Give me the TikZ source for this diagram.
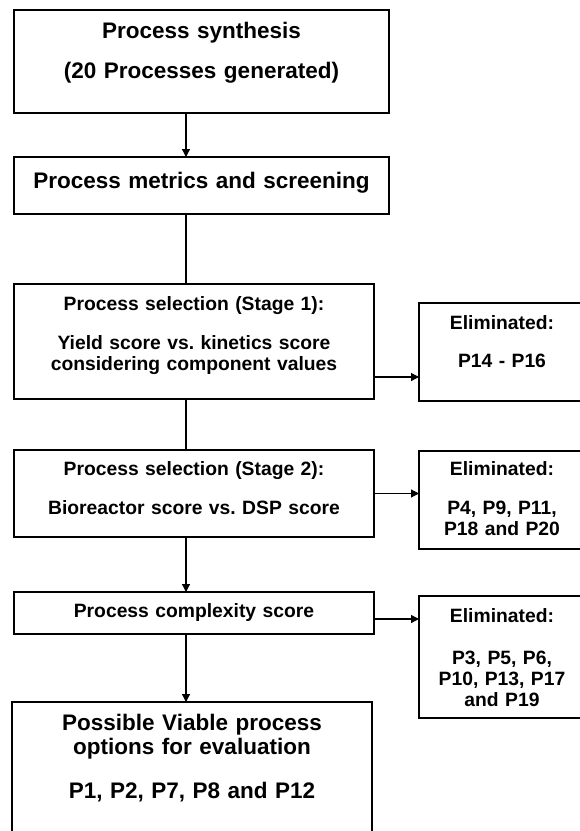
\documentclass[tikz,border=0pt]{standalone}
\usepackage{fontspec}
\setmainfont{Liberation Sans}
\usetikzlibrary{arrows.meta,positioning}
\frenchspacing

\begin{document}
\begin{tikzpicture}[
  x=1pt, y=1pt,
  box/.style={draw, line width=1.6pt, inner sep=0pt, outer sep=0pt, align=center, anchor=north west},
  big/.style={box, font=\fontsize{22.5}{27}\selectfont\bfseries},
  sml/.style={box, font=\fontsize{19.3}{21}\selectfont\bfseries},
  elim/.style={sml, text width=166pt},
  ar/.style={-{Triangle[length=8pt, width=8pt]}, line width=1.2pt},
  ln/.style={line width=1.2pt},
]
\clip (0,0) rectangle (580,-831);
% --- main column ---
\node[big, text width=375pt, text height=28pt, text depth=75pt] (synth) at (14,-10)
  {Process synthesis\\[13pt](20 Processes generated)};
\node[big, text width=375pt, text height=31pt, text depth=26pt,
      below=44pt of synth.south west, anchor=north west] (metrics)
  {Process metrics and screening};
\node[sml, text width=360pt, text height=26pt, text depth=89pt,
      below=70pt of metrics.south west, anchor=north west] (sel1)
  {Process selection (Stage 1):\\[18pt]Yield score vs. kinetics score\\considering component values};
\node[sml, text width=360pt, text height=25pt, text depth=62pt,
      below=51pt of sel1.south west, anchor=north west] (sel2)
  {Process selection (Stage 2):\\[18pt]Bioreactor score vs. DSP score};
\node[sml, text width=360pt, text height=25pt, text depth=17pt,
      below=55pt of sel2.south west, anchor=north west] (cplx)
  {Process complexity score};
\node[big, text width=360pt, text height=28pt, text depth=150pt,
      below=68pt of cplx.south west, anchor=north west, xshift=-2pt] (viable)
  {Possible Viable process\\[-3pt]options for evaluation\\[17pt]P1, P2, P7, P8 and P12};

% --- eliminated ---
\node[elim, text height=26pt, text depth=72pt,
      right=45pt of sel1.north east, anchor=north west, yshift=-19pt] (elim1)
  {Eliminated:\\[17pt]P14 - P16};
\node[elim, text height=24pt, text depth=74pt,
      right=45pt of sel2.north east, anchor=north west, yshift=-1pt] (elim2)
  {Eliminated:\\[18pt]P4, P9, P11,\\P18 and P20};
\node[elim, text height=26pt, text depth=96pt,
      right=45pt of cplx.north east, anchor=north west, yshift=-4pt] (elim3)
  {Eliminated:\\[21pt]P3, P5, P6,\\P10, P13, P17\\and P19};

% --- connectors ---
\draw[ar] ([xshift=-15.5pt]synth.south) -- ([xshift=-15.5pt]synth.south |- metrics.north);
\draw[ln] ([xshift=-8pt]sel1.north) -- ([xshift=-8pt]sel1.north |- metrics.south);
\draw[ln] ([xshift=-8pt]sel1.south) -- ([xshift=-8pt]sel2.north);
\draw[ar] ([xshift=-8pt]sel2.south) -- ([xshift=-8pt]cplx.north);
\draw[ar] ([xshift=-8pt]cplx.south) -- ([xshift=-8pt]cplx.south |- viable.north);
\draw[ar] ([yshift=-35.5pt]sel1.east) -- ([yshift=-35.5pt]sel1.east -| elim1.west);
\draw[ar] (sel2.east) -- (sel2.east -| elim2.west);
\draw[ar] ([yshift=-6pt]cplx.east) -- ([yshift=-6pt]cplx.east -| elim3.west);
\end{tikzpicture}
\end{document}
